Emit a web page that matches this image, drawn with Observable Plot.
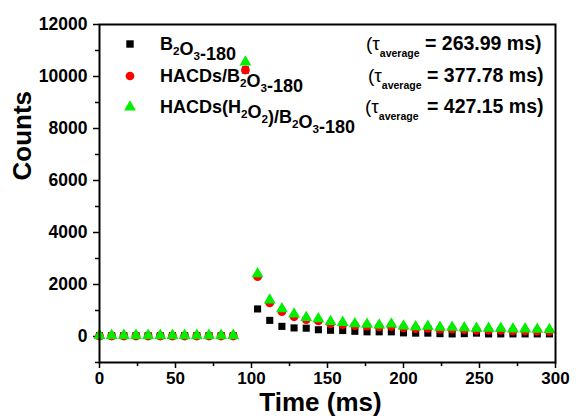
<!DOCTYPE html>
<html>
<head>
<meta charset="utf-8">
<script src="https://cdn.jsdelivr.net/npm/d3@7"></script>
<script src="https://cdn.jsdelivr.net/npm/@observablehq/plot@0.6"></script>
<style>
  html, body { margin: 0; padding: 0; background: #fff; }
  #chart svg { font-family: "Liberation Sans", Arial, sans-serif; }
</style>
</head>
<body>
<div id="chart"></div>
<script>
const times = [0,8,16,24,32,40,48,56,64,72,80,88,96,104,112,120,128,136,144,152,160,168,176,184,192,200,208,216,224,232,240,248,256,264,272,280,288,296];
const seriesNames = ["B_2O_3-180", "HACDs/B_2O_3-180", "HACDs(H_2O_2)/B_2O_3-180"];
const tauAverage = ["263.99", "377.78", "427.15"];
const b2o3 = [30,30,30,30,30,30,30,30,30,30,30,30,10250,1060,620,390,330,320,260,240,230,200,180,180,180,140,130,130,110,100,110,130,100,100,100,100,100,100];
const hacds = [20,20,20,20,20,20,20,20,20,20,20,20,10250,2300,1290,960,760,650,600,490,460,420,400,370,390,330,300,310,280,280,260,240,240,240,220,220,210,200];
const hacdsH2O2 = [40,40,40,40,40,40,40,40,40,40,40,40,10550,2410,1400,1060,860,730,680,570,540,490,470,440,480,400,370,390,350,350,330,310,310,310,290,290,280,270];
const xTicks = [0,50,100,150,200,250,300];
const xMinor = [25,75,125,175,225,275];
const yTicks = [0,2000,4000,6000,8000,10000,12000];
const yMinor = [-1000,1000,3000,5000,7000,9000,11000];

const symbols = ["square", "circle", "triangle"];
const colors = ["#000000", "#ff0000", "#00ee00"];
const seriesValues = [b2o3, hacds, hacdsH2O2];
const rows = [];
seriesValues.forEach((vals, s) => vals.forEach((v, i) => rows.push({t: times[i], v, s})));

const plot = Plot.plot({
  width: 576,
  height: 420,
  marginLeft: 99,
  marginRight: 21,
  marginTop: 24,
  marginBottom: 58,
  style: {background: "#fff", color: "#000", fontFamily: "Liberation Sans, Arial, sans-serif"},
  x: {domain: [0, 300]},
  y: {domain: [-1000, 12000]},
  marks: [
    Plot.axisX({ticks: xTicks, tickSize: 6, tickPadding: 3, fontSize: 17, fontWeight: "bold", label: null, strokeWidth: 1.5}),
    Plot.axisX({ticks: xMinor, tickSize: 4, text: null, label: null, strokeWidth: 1.5}),
    Plot.axisY({ticks: yTicks, tickSize: 6, tickPadding: 6, fontSize: 17.5, fontWeight: "bold", label: null, strokeWidth: 1.5, tickFormat: d => String(d)}),
    Plot.axisY({ticks: yMinor, tickSize: 4, text: null, label: null, strokeWidth: 1.5}),
    ...[0, 1, 2].map(s => Plot.dot(rows.filter(d => d.s === s), {
      x: "t", y: "v", symbol: symbols[s], fill: colors[s], r: s === 0 ? 4 : 4.4, stroke: "none"
    })),
    Plot.frame({stroke: "#000", strokeWidth: 2}),
    Plot.text(["Counts"], {frameAnchor: "left", rotate: -90, dx: -77, dy: -13, fontSize: 26, fontWeight: "bold", fill: "#000"}),
    Plot.text(["Time (ms)"], {frameAnchor: "bottom", dx: -7, dy: 48, fontSize: 26, fontWeight: "bold", fill: "#000"})
  ]
});

// Legend with subscripts
const svg = d3.select(plot);
const leg = svg.append("g").attr("font-weight", "bold").attr("fill", "#000").attr("text-anchor", "start");
const rowY = [44, 76, 107];
const tauX = [366, 368, 365];
const eqX = [425, 427, 427];
const symGen = d3.symbol();
function addRich(textSel, str, size) {
  const parts = str.split(/(_\d)/);
  parts.forEach(p => {
    if (!p) return;
    if (p.startsWith("_")) {
      textSel.append("tspan").attr("font-size", size * 0.65).attr("dy", 5).text(p.slice(1));
      textSel.append("tspan").attr("font-size", size).attr("dy", -5).text("");
    } else {
      textSel.append("tspan").attr("font-size", size).text(p);
    }
  });
}
seriesNames.forEach((name, i) => {
  const y = rowY[i];
  const typ = [d3.symbolSquare, d3.symbolCircle, d3.symbolTriangle][i];
  leg.append("path")
    .attr("d", symGen.type(typ).size(i === 0 ? 55 : 60)())
    .attr("transform", `translate(130,${y})`)
    .attr("fill", colors[i]);
  const t = leg.append("text").attr("x", 160).attr("y", y + 6).attr("font-size", 18);
  addRich(t, name, 18);
  const t2 = leg.append("text").attr("x", tauX[i]).attr("y", y + 6).attr("font-size", 19);
  t2.append("tspan").text("(\u03C4").attr("font-weight", "normal");
  t2.append("tspan").attr("font-size", 10.5).attr("dy", 7).text("average");
  const t3 = leg.append("text").attr("x", eqX[i]).attr("y", y + 6).attr("font-size", 19.5);
  t3.text(`= ${tauAverage[i]} ms)`);
});

document.getElementById("chart").appendChild(plot);
</script>
</body>
</html>
